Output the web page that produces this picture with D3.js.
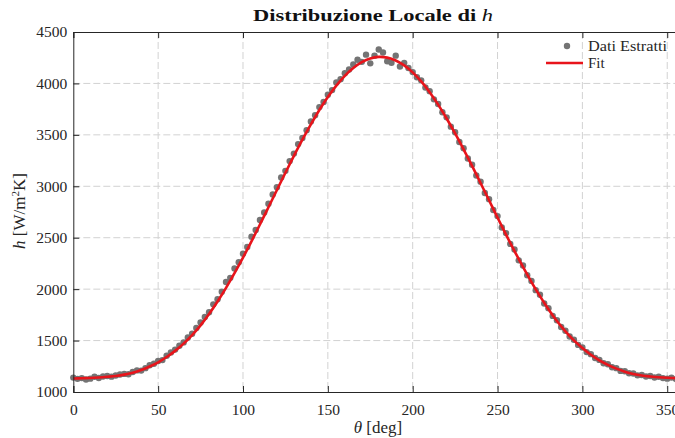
<!DOCTYPE html>
<html>
<head>
<meta charset="utf-8">
<script src="https://cdn.jsdelivr.net/npm/d3@7"></script>
<style>
  html, body { margin: 0; padding: 0; background: #fff; }
  svg { display: block; font-family: "Liberation Serif", "DejaVu Serif", serif; }
</style>
</head>
<body>
<div id="plot-container"></div>
<script>
// Extracted points (theta in deg, h in W/m^2K)
const thetaPts = [
  0, 2.5, 5, 7.5, 10, 12.5, 15, 17.5, 20, 22.5, 25, 27.5, 30, 32.5, 35, 37.5, 40, 42.5, 45, 47.5,
  50, 52.5, 55, 57.5, 60, 62.5, 65, 67.5, 70, 72.5, 75, 77.5, 80, 82.5, 85, 87.5, 90, 92.5, 95, 97.5,
  100, 102.5, 105, 107.5, 110, 112.5, 115, 117.5, 120, 122.5, 125, 127.5, 130, 132.5, 135, 137.5, 140, 142.5, 145, 147.5,
  150, 152.5, 155, 157.5, 160, 162.5, 165, 167.5, 170, 172.5, 175, 177.5, 180, 182.5, 185, 187.5, 190, 192.5, 195, 197.5,
  200, 202.5, 205, 207.5, 210, 212.5, 215, 217.5, 220, 222.5, 225, 227.5, 230, 232.5, 235, 237.5, 240, 242.5, 245, 247.5,
  250, 252.5, 255, 257.5, 260, 262.5, 265, 267.5, 270, 272.5, 275, 277.5, 280, 282.5, 285, 287.5, 290, 292.5, 295, 297.5,
  300, 302.5, 305, 307.5, 310, 312.5, 315, 317.5, 320, 322.5, 325, 327.5, 330, 332.5, 335, 337.5, 340, 342.5, 345, 347.5,
  350, 352.5, 355, 357.5, 360
];
const hPts = [
  1140, 1128, 1135, 1122, 1130, 1148, 1136, 1150, 1155, 1149, 1160, 1170, 1176, 1172, 1195, 1210, 1208, 1232, 1260, 1275,
  1302, 1310, 1352, 1385, 1412, 1450, 1482, 1530, 1566, 1622, 1675, 1730, 1775, 1852, 1902, 1975, 2070, 2110, 2200, 2262,
  2345, 2410, 2510, 2575, 2672, 2745, 2830, 2920, 2990, 3085, 3150, 3245, 3318, 3410, 3470, 3545, 3630, 3690, 3770, 3820,
  3890, 3935, 4010, 4040, 4100, 4135, 4185, 4230, 4210, 4280, 4195, 4270, 4330, 4300, 4215, 4200, 4270, 4165, 4200, 4150,
  4110, 4060, 4030, 3960, 3925, 3845, 3800, 3720, 3670, 3580, 3525, 3430, 3370, 3270, 3210, 3105, 3045, 2935, 2875, 2770,
  2710, 2600, 2545, 2440, 2385, 2280, 2230, 2135, 2080, 1990, 1945, 1860, 1815, 1740, 1698, 1632, 1596, 1540, 1508, 1458,
  1432, 1388, 1368, 1330, 1312, 1280, 1270, 1240, 1232, 1205, 1202, 1182, 1180, 1162, 1165, 1150, 1155, 1141, 1148, 1135,
  1130, 1140, 1126, 1138, 1130
];

// Fit curve
const thetaFit = [
  0, 5, 10, 15, 20, 25, 30, 35, 40, 45, 50, 55, 60, 65, 70, 75, 80, 85, 90, 95,
  100, 105, 110, 115, 120, 125, 130, 135, 140, 145, 150, 155, 160, 165, 170, 175, 180, 185, 190, 195,
  200, 205, 210, 215, 220, 225, 230, 235, 240, 245, 250, 255, 260, 265, 270, 275, 280, 285, 290, 295,
  300, 305, 310, 315, 320, 325, 330, 335, 340, 345, 350, 355, 360
];
const hFit = [
  1131, 1134, 1136, 1141, 1148, 1156, 1169, 1188, 1214, 1248, 1289, 1340, 1400, 1470, 1553, 1648, 1758, 1880, 2013, 2156,
  2307, 2465, 2629, 2796, 2964, 3132, 3295, 3453, 3602, 3742, 3868, 3979, 4074, 4150, 4207, 4243, 4258, 4251, 4223, 4175,
  4107, 4019, 3915, 3794, 3659, 3514, 3359, 3198, 3031, 2864, 2696, 2530, 2370, 2216, 2069, 1932, 1805, 1690, 1590, 1502,
  1427, 1362, 1308, 1264, 1227, 1198, 1176, 1161, 1151, 1143, 1138, 1135, 1132
];

// Axis ticks
const xTicks = [0, 50, 100, 150, 200, 250, 300, 350];
const yTicks = [1000, 1500, 2000, 2500, 3000, 3500, 4000, 4500];

const width = 675;
const height = 438;
const plotLeft = 73.3;
const plotRight = 684.2;
const plotTop = 32;
const plotBottom = 392;

const svg = d3.select('#plot-container')
    .append('svg')
    .attr('width', width)
    .attr('height', height);

svg.append('rect')
    .attr('width', width)
    .attr('height', height)
    .attr('fill', '#fff');

const x = d3.scaleLinear().domain([0, 360]).range([plotLeft, plotRight]);
const y = d3.scaleLinear().domain([1000, 4500]).range([plotBottom, plotTop]);

// Grid lines (dashed)
const grid = svg.append('g')
    .attr('stroke', '#d2d2d2')
    .attr('stroke-width', 1)
    .attr('stroke-dasharray', '7,3');

grid.selectAll('.vgrid')
    .data(xTicks.filter((d) => d > 0))
    .enter()
    .append('line')
    .attr('x1', (d) => x(d))
    .attr('x2', (d) => x(d))
    .attr('y1', plotTop)
    .attr('y2', plotBottom);

grid.selectAll('.hgrid')
    .data(yTicks.filter((d) => d > 1000 && d < 4500))
    .enter()
    .append('line')
    .attr('x1', plotLeft)
    .attr('x2', plotRight)
    .attr('y1', (d) => y(d))
    .attr('y2', (d) => y(d));

// Scatter points
svg.append('g')
    .selectAll('circle')
    .data(thetaPts.map((t, i) => ({ t: t, h: hPts[i] })))
    .enter()
    .append('circle')
    .attr('cx', (d) => x(d.t))
    .attr('cy', (d) => y(d.h))
    .attr('r', 3.2)
    .attr('fill', '#747474');

// Fit line
const line = d3.line()
    .x((d) => x(d.t))
    .y((d) => y(d.h))
    .curve(d3.curveCatmullRom);

svg.append('path')
    .datum(thetaFit.map((t, i) => ({ t: t, h: hFit[i] })))
    .attr('d', line)
    .attr('fill', 'none')
    .attr('stroke', '#e8141b')
    .attr('stroke-width', 2.6);

// Axes: inward ticks, box on
const axisColor = '#262626';
const tickLen = 6;

const xAxisB = d3.axisBottom(x).tickValues(xTicks).tickSize(-tickLen).tickPadding(12).tickFormat(d3.format('d'));
const xAxisT = d3.axisTop(x).tickValues(xTicks).tickSize(-tickLen).tickFormat('');
const yAxisL = d3.axisLeft(y).tickValues(yTicks).tickSize(-tickLen).tickPadding(12).tickFormat(d3.format('d'));

const gB = svg.append('g').attr('transform', `translate(0,${plotBottom})`).call(xAxisB);
const gT = svg.append('g').attr('transform', `translate(0,${plotTop})`).call(xAxisT);
const gL = svg.append('g').attr('transform', `translate(${plotLeft},0)`).call(yAxisL);

[gB, gT, gL].forEach((g) => {
    g.select('.domain').attr('stroke', axisColor).attr('stroke-width', 1);
    g.selectAll('.tick line').attr('stroke', axisColor).attr('stroke-width', 1);
    g.selectAll('.tick text')
        .attr('fill', '#262626')
        .attr('font-family', '"Liberation Serif", serif')
        .attr('font-size', 15.5);
});
gL.selectAll('.tick text').attr('dx', 6);

// Title
const title = svg.append('text')
    .attr('x', 373)
    .attr('y', 21)
    .attr('text-anchor', 'middle')
    .attr('font-size', 17)
    .attr('fill', '#111')
    .attr('textLength', 240)
    .attr('lengthAdjust', 'spacingAndGlyphs');
title.append('tspan').attr('font-weight', 'bold').text('Distribuzione Locale di ');
title.append('tspan').attr('font-style', 'italic').text('h');

// X label
const xLabel = svg.append('text')
    .attr('x', 378)
    .attr('y', 433)
    .attr('text-anchor', 'middle')
    .attr('font-size', 17)
    .attr('fill', '#262626');
xLabel.append('tspan').attr('font-style', 'italic').text('θ');
xLabel.append('tspan').text(' [deg]');

// Y label
const yLabel = svg.append('text')
    .attr('transform', 'translate(25,211) rotate(-90)')
    .attr('text-anchor', 'middle')
    .attr('font-size', 17)
    .attr('fill', '#262626');
yLabel.append('tspan').attr('font-style', 'italic').text('h');
yLabel.append('tspan').text(' [W/m');
yLabel.append('tspan').attr('font-size', 11).attr('dy', -6).text('2');
yLabel.append('tspan').attr('dy', 6).text('K]');

// Legend (no box)
const legend = svg.append('g').attr('font-size', 15).attr('fill', '#262626');
legend.append('circle').attr('cx', 567).attr('cy', 46).attr('r', 3.2).attr('fill', '#747474');
legend.append('text').attr('x', 588).attr('y', 51)
    .attr('textLength', 79).attr('lengthAdjust', 'spacingAndGlyphs')
    .text('Dati Estratti');
legend.append('line')
    .attr('x1', 546).attr('x2', 583)
    .attr('y1', 63).attr('y2', 63)
    .attr('stroke', '#e8141b')
    .attr('stroke-width', 2.6);
legend.append('text').attr('x', 588).attr('y', 68).text('Fit');
</script>
</body>
</html>
